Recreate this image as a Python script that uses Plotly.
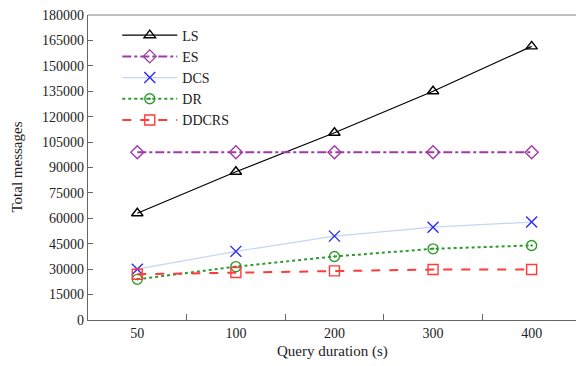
import plotly.graph_objects as go

durations = ["50", "100", "200", "300", "400"]
ls_vals = [63000, 87500, 110500, 135000, 161500]
es_vals = [99000, 99000, 99000, 99000, 99000]
dcs_vals = [30000, 40500, 49500, 54800, 57800]
dr_vals = [24000, 31500, 37500, 42000, 44000]
ddcrs_vals = [27000, 28000, 29000, 29800, 29800]
y_ticks = list(range(0, 180001, 15000))

series = [
    ("LS", ls_vals, "black", "solid", "triangle-up-open", 1.2, 10, "black"),
    ("ES", es_vals, "#a03aa8", "dashdot", "diamond-open", 2, 10, "#a03aa8"),
    ("DCS", dcs_vals, "#c5d6ee", "solid", "x-thin-open", 1.2, 11, "#2b2bff"),
    ("DR", dr_vals, "#2e9a2e", "dot", "circle-open-dot", 2, 10, "#2e9a2e"),
    ("DDCRS", ddcrs_vals, "#ff3b3b", "dash", "square-open", 2, 10, "#ff3b3b"),
]

fig = go.Figure()
for name, vals, color, dash, sym, w, size, mc in series:
    fig.add_trace(go.Scatter(
        x=durations, y=vals, name=name, mode="lines+markers",
        line=dict(color=color, dash=dash, width=w),
        marker=dict(symbol=sym, size=size, color=mc,
                    line=dict(color=mc, width=1.4)),
    ))

fig.update_layout(
    width=576, height=366,
    margin=dict(l=88, r=0, t=15, b=46),
    paper_bgcolor="white", plot_bgcolor="white",
    font=dict(family="Liberation Serif", size=14, color="#222"),
    showlegend=True,
    legend=dict(x=0.06, y=0.985, xanchor="left", yanchor="top",
                bgcolor="rgba(0,0,0,0)", itemwidth=55,
                font=dict(family="Liberation Serif", size=14, color="#222"),
                tracegroupgap=0),
    xaxis=dict(
        type="category", range=[-0.5, 4.45], tickson="boundaries",
        ticks="inside", ticklen=6, tickcolor="#666", automargin=False,
        showline=True, linecolor="#666", linewidth=1.2,
        showgrid=False, zeroline=False,
        tickfont=dict(size=14),
    ),
    yaxis=dict(
        range=[0, 180000], tickvals=y_ticks, ticktext=[str(v) for v in y_ticks],
        ticks="inside", ticklen=5, tickcolor="#666", automargin=False,
        showline=True, linecolor="#666", linewidth=1.2,
        showgrid=False, zeroline=False,
        tickfont=dict(size=14),
    ),
    shapes=[
        dict(type="line", xref="paper", yref="paper", x0=0, x1=1, y0=1, y1=1,
             line=dict(color="#aaa", width=1.5)),
    ],
    annotations=[
        dict(text="Query duration (s)", xref="paper", yref="paper",
             x=0.5, y=0, yshift=-31, xanchor="center", yanchor="middle",
             showarrow=False, font=dict(size=15)),
        dict(text="Total messages", xref="paper", yref="paper",
             x=0, y=0.5, xshift=-72, xanchor="center", yanchor="middle",
             textangle=-90, showarrow=False, font=dict(size=15)),
    ],
)

fig.write_html("out.html", config={"displayModeBar": False},
               post_script="document.body.style.margin='0';document.body.style.overflow='hidden';")
